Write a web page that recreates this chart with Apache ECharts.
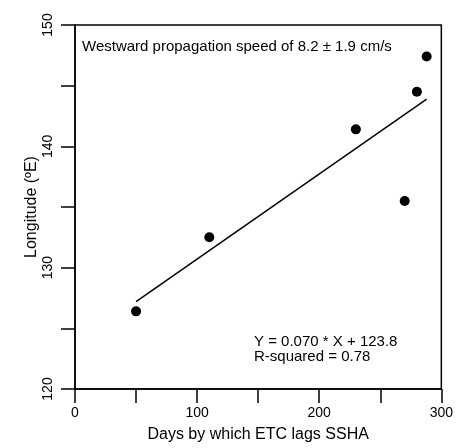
<!DOCTYPE html>
<html>
<head>
<meta charset="utf-8">
<script src="https://cdn.jsdelivr.net/npm/echarts@6/dist/echarts.min.js"></script>
<style>
  html, body { margin: 0; padding: 0; background: #fff; }
  #chart { width: 456px; height: 448px; }
</style>
</head>
<body>
<div id="chart"></div>
<script>
// observed points (days lag, longitude)
const lagDays = [50, 110, 230, 270, 280, 288]
const longitude = [126.4, 132.5, 141.4, 135.5, 144.5, 147.4]
// fitted line end points
const fitX = [50, 288]
const fitY = [127.2, 143.9]

const xTicks = [0, 100, 200, 300]
const yTicks = [120, 130, 140, 150]

const font = 'Liberation Sans, Arial, sans-serif'
const chart = echarts.init(document.getElementById('chart'))

chart.setOption({
  animation: false,
  grid: { left: 75, right: 14, top: 25, bottom: 58, show: true, borderColor: '#000', borderWidth: 1.5, backgroundColor: 'transparent' },
  xAxis: {
    type: 'value', min: 0, max: 300, interval: 50,
    name: 'Days by which ETC lags SSHA', nameLocation: 'middle', nameGap: 38,
    nameTextStyle: { fontFamily: font, fontSize: 16, color: '#000' },
    axisLine: { lineStyle: { color: '#000', width: 1.5 } },
    axisTick: { length: 14, lineStyle: { color: '#000', width: 1.5 } },
    axisLabel: {
      fontFamily: font, fontSize: 14, color: '#000', margin: 17,
      formatter: v => xTicks.includes(v) ? String(v) : ''
    },
    splitLine: { show: false }
  },
  yAxis: {
    type: 'value', min: 120, max: 150, interval: 5,
    name: 'Longitude (\u00BAE)', nameLocation: 'middle', nameGap: 35, nameMoveOverlap: false,
    nameTextStyle: { fontFamily: font, fontSize: 16, color: '#000' },
    axisLine: { lineStyle: { color: '#000', width: 1.5 } },
    axisTick: { length: 14, lineStyle: { color: '#000', width: 1.5 } },
    axisLabel: {
      fontFamily: font, fontSize: 14, color: '#000', rotate: 90, margin: 20,
      formatter: v => yTicks.includes(v) ? String(v) : ''
    },
    splitLine: { show: false }
  },
  graphic: [
    { type: 'text', left: 82, top: 39, style: { text: 'Westward propagation speed of 8.2 \u00B1 1.9 cm/s', font: '15px ' + font, fill: '#000' } },
    { type: 'text', left: 254, top: 334, style: { text: 'Y = 0.070 * X + 123.8', font: '15px ' + font, fill: '#000' } },
    { type: 'text', left: 254, top: 349, style: { text: 'R-squared = 0.78', font: '15px ' + font, fill: '#000' } }
  ],
  series: [
    {
      type: 'line', data: fitX.map((x, i) => [x, fitY[i]]),
      symbol: 'none', lineStyle: { color: '#000', width: 1.5 }
    },
    {
      type: 'scatter', data: lagDays.map((x, i) => [x, longitude[i]]),
      symbol: 'circle', symbolSize: 10, itemStyle: { color: '#000', opacity: 1 }
    }
  ]
})
</script>
</body>
</html>
